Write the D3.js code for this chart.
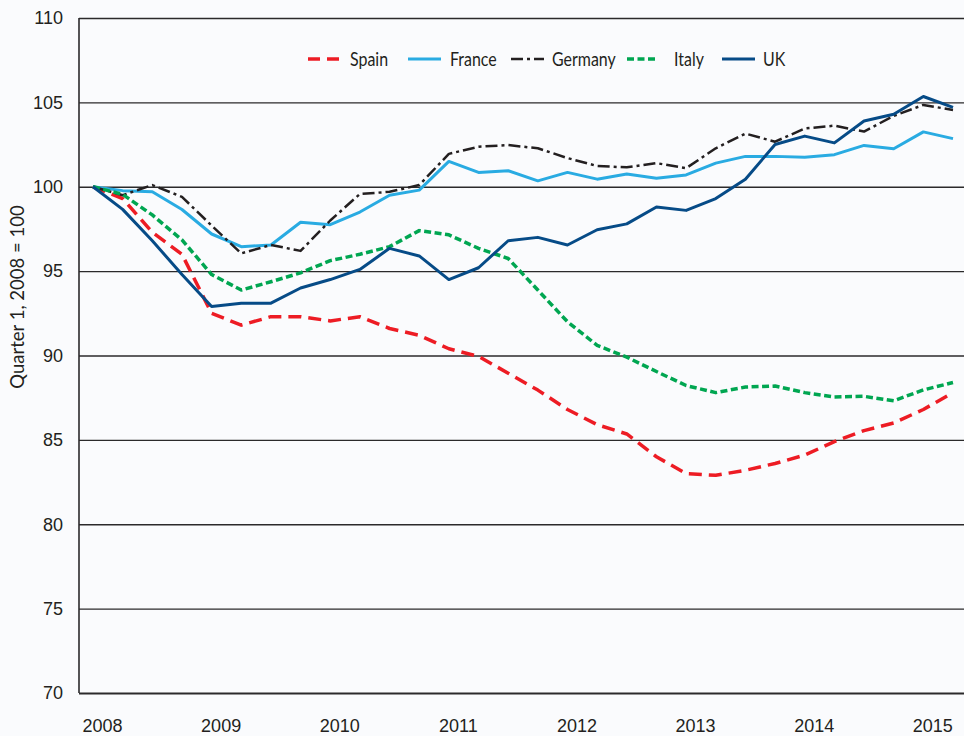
<!DOCTYPE html>
<html>
<head>
<meta charset="utf-8">
<script src="https://cdn.jsdelivr.net/npm/d3@7"></script>
<style>
	body { margin: 0; background: #fafbfd; }
	svg { display: block; font-family: Lato, "Open Sans", sans-serif; }
</style>
</head>
<body>
<div id="chart"></div>
<script>

///////////////////////////////////////////////////////////////////////////
//////////////////////////////// Data /////////////////////////////////////
///////////////////////////////////////////////////////////////////////////

var quarters = ["2008Q1","2008Q2","2008Q3","2008Q4","2009Q1","2009Q2","2009Q3","2009Q4",
	"2010Q1","2010Q2","2010Q3","2010Q4","2011Q1","2011Q2","2011Q3","2011Q4",
	"2012Q1","2012Q2","2012Q3","2012Q4","2013Q1","2013Q2","2013Q3","2013Q4",
	"2014Q1","2014Q2","2014Q3","2014Q4","2015Q1","2015Q2"];

var spain   = [100, 99.3, 97.3, 96.0, 92.5, 91.8, 92.3, 92.3, 92.05, 92.3, 91.6, 91.2, 90.4, 89.95, 88.95, 87.95,
	86.8, 85.9, 85.35, 84.0, 83.0, 82.9, 83.2, 83.6, 84.1, 84.9, 85.55, 86.0, 86.8, 87.8];
var france  = [100, 99.77, 99.7, 98.65, 97.2, 96.45, 96.55, 97.9, 97.75, 98.5, 99.5, 99.8, 101.5, 100.85, 100.95, 100.35,
	100.85, 100.45, 100.75, 100.5, 100.7, 101.4, 101.8, 101.8, 101.75, 101.9, 102.45, 102.25, 103.25, 102.85];
var germany = [100, 99.5, 100.1, 99.4, 97.7, 96.05, 96.55, 96.2, 98.0, 99.57, 99.7, 100.1, 101.95, 102.37, 102.47, 102.28,
	101.7, 101.23, 101.15, 101.4, 101.1, 102.28, 103.15, 102.67, 103.45, 103.62, 103.27, 104.2, 104.85, 104.55];
var italy   = [100, 99.55, 98.33, 96.85, 94.8, 93.88, 94.37, 94.9, 95.62, 96.0, 96.45, 97.4, 97.15, 96.35, 95.75, 93.88,
	92.0, 90.6, 89.9, 89.05, 88.22, 87.8, 88.13, 88.19, 87.8, 87.54, 87.58, 87.32, 87.96, 88.4];
var uk      = [100, 98.66, 96.8, 94.8, 92.9, 93.1, 93.1, 94.0, 94.5, 95.1, 96.35, 95.9, 94.5, 95.2, 96.8, 97.0,
	96.55, 97.45, 97.8, 98.8, 98.6, 99.3, 100.45, 102.5, 103.0, 102.6, 103.9, 104.3, 105.35, 104.7];

var countries = ["Spain", "France", "Germany", "Italy", "UK"];
var yearTicks = [2008, 2009, 2010, 2011, 2012, 2013, 2014, 2015];
var valueTicks = [70, 75, 80, 85, 90, 95, 100, 105, 110];
var axisTitle = "Quarter 1, 2008 = 100";

///////////////////////////////////////////////////////////////////////////
//////////////////// Set up and initiate svg container ////////////////////
///////////////////////////////////////////////////////////////////////////

var totalWidth = 964, totalHeight = 736;
var plotLeft = 79, plotTop = 18, plotBottom = 693;

var svg = d3.select("#chart")
	.append("svg")
	.attr("width", totalWidth)
	.attr("height", totalHeight);

svg.append("rect")
	.attr("width", totalWidth)
	.attr("height", totalHeight)
	.style("fill", "#fafbfd");

//Quarter -> decimal year
function quarterToYear(q) { return +q.slice(0, 4) + (+q.slice(5) - 1) / 4; }

var x = d3.scaleLinear()
	.domain([2008, 2015.25])
	.range([93, 953]);

var y = d3.scaleLinear()
	.domain([70, 110])
	.range([plotBottom, plotTop]);

///////////////////////////////////////////////////////////////////////////
////////////////////////////// Axes & grid ////////////////////////////////
///////////////////////////////////////////////////////////////////////////

var yAxis = svg.append("g")
	.attr("class", "y axis")
	.attr("transform", "translate(" + plotLeft + ",0)")
	.call(d3.axisLeft(y)
		.tickValues(valueTicks)
		.tickSize(-(totalWidth - plotLeft))
		.tickPadding(16));

yAxis.select(".domain").remove();
yAxis.selectAll(".tick line")
	.style("stroke", "#2b2a2b")
	.style("stroke-width", function(d) { return d === 70 ? 2 : 1.4; });
yAxis.selectAll(".tick text")
	.style("font-size", "18px")
	.style("fill", "#231f20");

//Left axis line
svg.append("line")
	.attr("x1", plotLeft).attr("x2", plotLeft)
	.attr("y1", plotTop).attr("y2", plotBottom)
	.style("stroke", "#2b2a2b")
	.style("stroke-width", 1.6);

var xAxis = svg.append("g")
	.attr("class", "x axis")
	.attr("transform", "translate(0," + plotBottom + ")")
	.call(d3.axisBottom(x)
		.tickValues(yearTicks)
		.tickFormat(d3.format("d"))
		.tickSize(0)
		.tickPadding(26));

xAxis.select(".domain").remove();
xAxis.selectAll(".tick text")
	.attr("dx", 9)
	.style("font-size", "18px")
	.style("fill", "#231f20");

//Axis title
svg.append("text")
	.attr("transform", "translate(24,297) rotate(-90)")
	.attr("text-anchor", "middle")
	.style("font-size", "18.5px")
	.style("fill", "#231f20")
	.text(axisTitle);

///////////////////////////////////////////////////////////////////////////
//////////////////////////////// Lines ////////////////////////////////////
///////////////////////////////////////////////////////////////////////////

var seriesValues = [spain, france, germany, italy, uk];
var styles = {
	Spain:   { color: "#ed1c24", width: 3.5, dash: "13,7" },
	France:  { color: "#29abe2", width: 3,   dash: null },
	Germany: { color: "#231f20", width: 2.5, dash: "12,4,3,4" },
	Italy:   { color: "#00a651", width: 3.5, dash: "7,3.5" },
	UK:      { color: "#064b87", width: 3,   dash: null }
};

var series = countries.map(function(c, i) {
	return {
		name: c,
		values: quarters.map(function(q, j) { return { year: quarterToYear(q), value: seriesValues[i][j] }; })
	};
});

var line = d3.line()
	.x(function(d) { return x(d.year); })
	.y(function(d) { return y(d.value); });

svg.selectAll(".country")
	.data(series)
	.enter().append("path")
	.attr("class", "country")
	.attr("d", function(d) { return line(d.values); })
	.style("fill", "none")
	.style("stroke", function(d) { return styles[d.name].color; })
	.style("stroke-width", function(d) { return styles[d.name].width; })
	.style("stroke-dasharray", function(d) { return styles[d.name].dash; })
	.style("stroke-linejoin", "round");

///////////////////////////////////////////////////////////////////////////
//////////////////////////////// Legend ///////////////////////////////////
///////////////////////////////////////////////////////////////////////////

var legendX = [308, 408, 511, 627, 722];
var legendY = 59;

var legend = svg.selectAll(".legend")
	.data(countries)
	.enter().append("g")
	.attr("class", "legend")
	.attr("transform", function(d, i) { return "translate(" + legendX[i] + "," + legendY + ")"; });

legend.append("line")
	.attr("x1", 0)
	.attr("x2", function(d) { return d === "Italy" ? 31 : 33; })
	.style("stroke", function(d) { return styles[d].color; })
	.style("stroke-width", function(d) { return styles[d].width; })
	.style("stroke-dasharray", function(d) { return d === "Spain" ? "12,7" : styles[d].dash; });

legend.append("text")
	.attr("transform", function(d) { return "translate(" + (d === "Italy" ? 47 : d === "Germany" ? 41 : d === "UK" ? 41 : 42) + ",7) scale(0.84,1)"; })
	.style("font-size", "19px")
	.style("fill", "#231f20")
	.text(function(d) { return d; });

</script>
</body>
</html>
